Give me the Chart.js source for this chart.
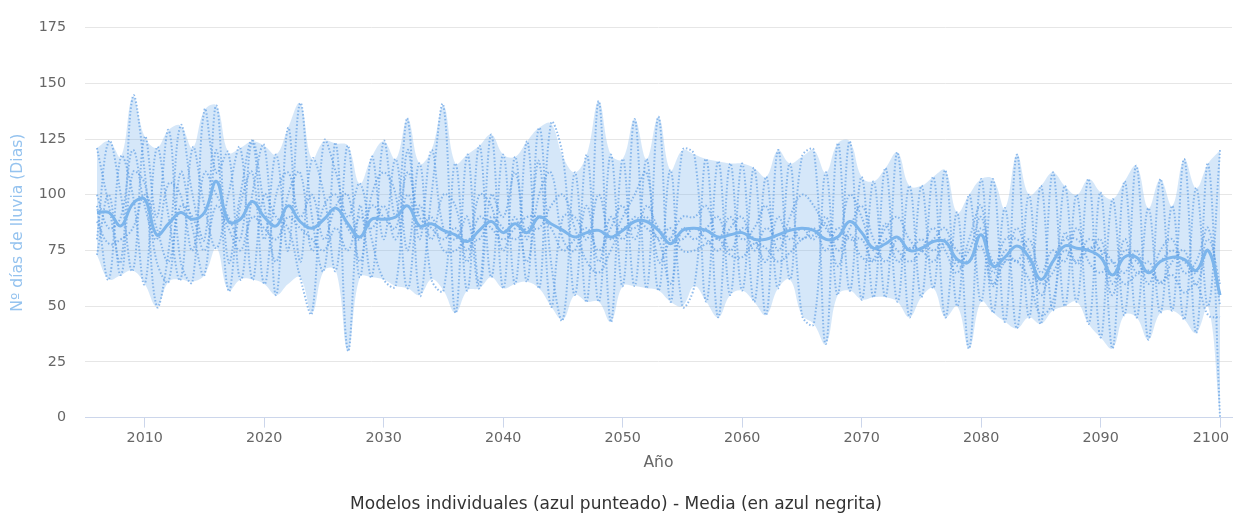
<!DOCTYPE html>
<html>
<head>
<meta charset="utf-8">
<script src="https://cdn.jsdelivr.net/npm/chart.js@4/dist/chart.umd.min.js"></script>
<style>
  html, body { margin: 0; padding: 0; background: #fff; }
  #wrap { width: 1233px; height: 515px; }
</style>
</head>
<body>
<div id="wrap"><canvas id="chart" width="1233" height="515"></canvas></div>
<script>
var firstYear = 2006;
var xTicks = [2010, 2020, 2030, 2040, 2050, 2060, 2070, 2080, 2090, 2100];
var yTicks = [0, 25, 50, 75, 100, 125, 150, 175];

// media de los modelos (azul negrita)
var mean = [
  92, 92, 86, 96, 98, 82, 87, 92, 89, 92,
  106, 88, 89, 97, 90, 86, 95, 88, 85, 89,
  94, 87, 81, 89, 89, 90, 95, 86, 87, 84,
  82, 79, 84, 88, 83, 87, 83, 90, 87, 84,
  81, 83, 84, 81, 84, 88, 88, 84, 78, 84,
  85, 84, 81, 82, 83, 80, 80, 82, 84, 85,
  84, 80, 81, 88, 83, 76, 78, 81, 75, 76,
  79, 79, 71, 70, 82, 68, 72, 77, 72, 62,
  70, 77, 76, 75, 72, 64, 72, 72, 65, 70,
  72, 71, 66, 75, 55
];

// rango min-max de los modelos
var upper = [
  121, 124, 117, 144, 126, 121, 129, 131, 121, 138,
  140, 119, 121, 124, 122, 118, 130, 141, 116, 124,
  123, 122, 105, 117, 124, 116, 134, 114, 120, 140,
  114, 118, 122, 127, 118, 117, 124, 130, 132, 117,
  110, 118, 142, 118, 116, 134, 116, 135, 111, 120,
  118, 116, 115, 114, 114, 112, 108, 120, 114, 117,
  120, 110, 123, 124, 108, 106, 112, 119, 104, 104,
  108, 111, 92, 100, 107, 107, 94, 118, 100, 104,
  110, 104, 100, 107, 101, 98, 106, 113, 94, 107,
  95, 116, 103, 114, 120
];
var lower = [
  73, 62, 64, 66, 60, 50, 61, 62, 61, 64,
  76, 57, 62, 62, 60, 55, 60, 63, 47, 66,
  66, 30, 63, 63, 62, 59, 58, 55, 62, 57,
  47, 57, 58, 63, 58, 60, 61, 58, 50, 44,
  55, 52, 52, 43, 59, 59, 58, 57, 52, 50,
  59, 52, 45, 55, 57, 52, 46, 58, 62, 46,
  42, 33, 55, 57, 53, 54, 54, 52, 45, 54,
  58, 45, 50, 31, 52, 47, 43, 40, 45, 42,
  48, 50, 52, 42, 36, 31, 46, 45, 35, 47,
  48, 44, 38, 50, 0
];

// modelos individuales (azul punteado)
var model1 = [
  121, 95, 70, 144, 110, 50, 75, 131, 100, 80,
  140, 70, 100, 124, 80, 118, 75, 141, 90, 66,
  123, 30, 95, 63, 124, 90, 134, 55, 100, 140,
  47, 118, 60, 127, 58, 117, 61, 130, 70, 44,
  110, 52, 142, 43, 116, 59, 116, 57, 111, 50,
  59, 116, 45, 114, 57, 112, 46, 120, 62, 117,
  120, 33, 123, 57, 108, 54, 112, 52, 104, 54,
  108, 45, 92, 31, 107, 47, 94, 40, 100, 42,
  110, 50, 100, 42, 101, 31, 106, 45, 94, 47,
  95, 44, 103, 50, 120
];
var model2 = [
  80, 124, 100, 66, 126, 90, 129, 70, 61, 138,
  110, 119, 62, 100, 122, 55, 130, 70, 116, 100,
  66, 122, 63, 117, 80, 116, 75, 114, 62, 57,
  114, 57, 122, 63, 118, 60, 124, 58, 132, 117,
  55, 118, 52, 118, 59, 134, 58, 135, 52, 120,
  118, 52, 115, 55, 114, 52, 108, 58, 114, 46,
  42, 110, 55, 124, 53, 106, 54, 119, 45, 104,
  58, 111, 50, 100, 52, 107, 43, 118, 45, 104,
  48, 104, 52, 107, 36, 98, 46, 113, 35, 107,
  48, 116, 38, 114, 0
];
var model3 = [
  95, 62, 117, 100, 60, 121, 90, 62, 121, 95,
  76, 100, 121, 62, 100, 90, 85, 63, 47, 124,
  110, 90, 105, 80, 62, 59, 120, 80, 120, 85,
  80, 90, 58, 100, 90, 110, 80, 115, 50, 90,
  90, 80, 100, 80, 90, 100, 110, 70, 80, 90,
  90, 95, 80, 90, 80, 85, 95, 75, 90, 100,
  95, 85, 80, 100, 90, 75, 85, 90, 80, 75,
  80, 85, 70, 75, 90, 65, 80, 80, 75, 55,
  70, 80, 80, 75, 80, 60, 75, 70, 65, 70,
  75, 70, 65, 80, 60
];
var model4 = [
  73, 100, 64, 110, 105, 70, 61, 110, 85, 64,
  120, 57, 95, 110, 60, 100, 110, 90, 100, 80,
  95, 100, 70, 100, 110, 100, 58, 95, 80, 100,
  95, 70, 100, 95, 75, 90, 70, 100, 110, 80,
  75, 95, 70, 90, 80, 90, 85, 80, 60, 85,
  80, 85, 90, 75, 85, 80, 70, 90, 80, 85,
  80, 90, 75, 85, 95, 80, 70, 80, 75, 80,
  75, 80, 75, 70, 85, 70, 70, 85, 70, 60,
  65, 75, 70, 80, 75, 55, 80, 65, 70, 60,
  70, 75, 60, 75, 55
];
var model5 = [
  100, 85, 90, 120, 95, 80, 105, 100, 75, 110,
  100, 90, 80, 124, 95, 70, 100, 110, 75, 95,
  100, 85, 80, 95, 90, 85, 110, 90, 85, 80,
  85, 75, 90, 85, 80, 85, 90, 90, 85, 75,
  80, 85, 75, 85, 95, 80, 95, 85, 80, 80,
  85, 80, 75, 85, 90, 75, 85, 80, 85, 80,
  85, 75, 85, 80, 80, 70, 80, 75, 70, 75,
  85, 75, 65, 80, 95, 60, 75, 70, 80, 65,
  75, 70, 85, 70, 65, 70, 65, 75, 60, 75,
  80, 65, 70, 85, 50
];
var model6 = [
  88, 78, 80, 85, 100, 85, 70, 95, 90, 75,
  95, 85, 75, 90, 85, 80, 90, 85, 80, 75,
  85, 75, 90, 85, 95, 80, 100, 85, 90, 75,
  75, 80, 80, 90, 85, 80, 85, 85, 95, 100,
  85, 70, 65, 75, 85, 85, 90, 80, 85, 75,
  75, 78, 80, 73, 72, 78, 76, 70, 74, 80,
  82, 87, 68, 82, 72, 71, 87, 70, 76, 75,
  70, 78, 68, 70, 77, 59, 70, 70, 62, 46,
  52, 83, 69, 76, 75, 70, 60, 64, 66, 61,
  64, 56, 60, 46, 45
];
var models = [model1, model2, model3, model4, model5, model6];

function toPoints(arr) {
  return arr.map(function (v, i) { return { x: firstYear + i, y: v }; });
}

var blue = '#7cb5ec';
var font = 'DejaVu Sans';

var datasets = [{
  label: 'Media',
  data: toPoints(mean),
  borderColor: blue,
  borderWidth: 3,
  pointRadius: 0,
  tension: 0.4,
  fill: false
}];

models.forEach(function (m, k) {
  datasets.push({
    label: 'Modelo ' + (k + 1),
    data: toPoints(m),
    borderColor: 'rgba(95,158,228,0.7)',
    borderWidth: 2,
    borderDash: [1.5, 2],
    pointRadius: 0,
    tension: 0.4,
    fill: false
  });
});

datasets.push({
  label: 'Max',
  data: toPoints(upper),
  borderWidth: 0,
  borderColor: 'rgba(0,0,0,0)',
  backgroundColor: 'rgba(124,181,236,0.32)',
  pointRadius: 0,
  tension: 0.4,
  fill: '+1'
});
datasets.push({
  label: 'Min',
  data: toPoints(lower),
  borderWidth: 0,
  borderColor: 'rgba(0,0,0,0)',
  pointRadius: 0,
  tension: 0.4,
  fill: false
});

new Chart(document.getElementById('chart'), {
  type: 'line',
  data: { datasets: datasets },
  options: {
    responsive: false,
    animation: false,
    layout: { padding: { top: 17, right: 1, left: 0, bottom: 0 } },
    plugins: {
      legend: { display: false },
      tooltip: { enabled: false },
      title: {
        display: true,
        position: 'bottom',
        text: 'Modelos individuales (azul punteado) - Media (en azul negrita)',
        color: '#333333',
        font: { family: font, size: 17, weight: 'normal' },
        padding: { top: 17, bottom: 0 }
      }
    },
    scales: {
      x: {
        type: 'linear',
        min: 2005,
        max: 2101,
        afterBuildTicks: function (scale) {
          scale.ticks = xTicks.map(function (v) { return { value: v }; });
        },
        afterFit: function (scale) {
          scale.height = 60;
          scale.paddingLeft = 0;
          scale.paddingRight = 0;
        },
        grid: {
          drawOnChartArea: false,
          drawTicks: true,
          tickLength: 10,
          color: '#ccd6eb'
        },
        border: { display: true, color: '#ccd6eb', width: 1 },
        ticks: {
          color: '#666666',
          font: { family: font, size: 14.3 },
          padding: 2,
          maxRotation: 0,
          autoSkip: false,
          // la última etiqueta se desplaza a la izquierda para no cortarse
          callback: function (v) { return v === 2100 ? '2100    ' : String(v); }
        },
        title: {
          display: true,
          text: 'Año',
          color: '#666666',
          font: { family: font, size: 15.6 },
          padding: { top: 0, bottom: 5 }
        }
      },
      y: {
        min: 0,
        max: 175,
        afterBuildTicks: function (scale) {
          scale.ticks = yTicks.map(function (v) { return { value: v }; });
        },
        afterFit: function (scale) { scale.width = 85; },
        grid: { color: '#e6e6e6', drawTicks: false },
        border: { display: false },
        ticks: {
          color: '#666666',
          font: { family: font, size: 14.3 },
          padding: 19
        },
        title: {
          display: true,
          text: 'Nº días de lluvia (Dias)',
          color: '#95c3ef',
          font: { family: font, size: 15.6 },
          padding: { top: 9, bottom: 0 }
        }
      }
    }
  }
});
</script>
</body>
</html>
